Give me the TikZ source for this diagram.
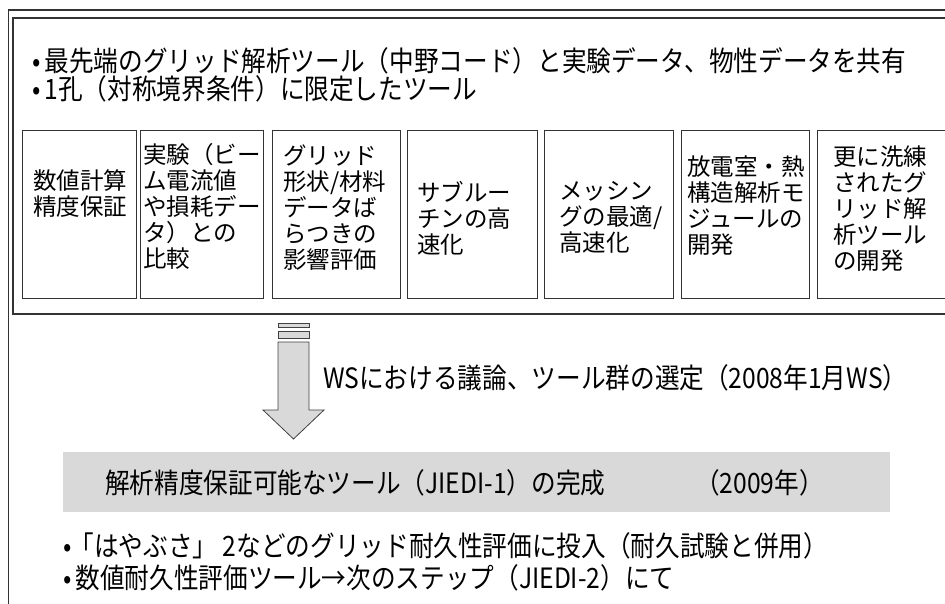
\documentclass[tikz,border=0pt]{standalone}
\usepackage{fontspec}
\setmainfont{Noto Sans CJK JP}
\newfontfamily\cjkbox{Noto Sans CJK JP}
\newfontfamily\cjkline[FakeStretch=0.88]{Noto Sans CJK JP}
\newcommand{\boxfont}{\cjkbox\fontsize{23.5}{26}\selectfont}
\newcommand{\linefont}{\cjkline\fontsize{28}{28}\selectfont}
\newcommand{\bul}{•\hspace{4pt}}
\definecolor{lightfill}{HTML}{D9D9D9}
\definecolor{linegray}{HTML}{333333}
\begin{document}
\begin{tikzpicture}[x=1pt,y=-1pt,
  framestyle/.style={draw=linegray, line width=1.1pt},
  boxn/.style={draw=linegray, line width=1.1pt, rectangle, inner sep=0pt, minimum height=168pt, anchor=north west},
  boxtxt/.style={font=\boxfont, align=left, anchor=west, inner sep=0pt, text=black},
  linetxt/.style={font=\linefont, anchor=base west, inner sep=0pt, text=black},
  arrowshape/.style={fill=lightfill, draw=black!75, line width=0.8pt}]
\useasboundingbox (0,0) rectangle (945,604);
\clip (0,0) rectangle (945,604);
% frames
\draw[framestyle] (960,10) -- (8.5,10) -- (8.5,620);
\draw[framestyle] (960,18) -- (13,18) -- (13,314) -- (960,314);
% top bullets
\node[linetxt] (t1) at (32,72) {\bul 最先端のグリッド解析ツール（中野コード）と実験データ、物性データを共有};
\node[linetxt] (t2) at (32,100) {\bul 1孔（対称境界条件）に限定したツール};
% boxes
\node[boxn, minimum width=114pt] (b1) at (22,130) {};
\node[boxn, minimum width=123pt] (b2) at (140,130) {};
\node[boxn, minimum width=128pt] (b3) at (272,130) {};
\node[boxn, minimum width=130pt] (b4) at (407,130) {};
\node[boxn, minimum width=129pt] (b5) at (544,130) {};
\node[boxn, minimum width=128pt] (b6) at (681,130) {};
\node[boxn, minimum width=153pt] (b7) at (817,130) {};
\node[boxtxt] (x1) at (33,194) {数値計算\\精度保証};
\node[boxtxt] (x2) at (143,206.5) {実験（ビー\\ム電流値\\や損耗デー\\タ）との\\比較};
\node[boxtxt] (x3) at (283,207.5) {グリッド\\形状/材料\\データば\\らつきの\\影響評価};
\node[boxtxt] (x4) at (417,218) {サブルー\\チンの高\\速化};
\node[boxtxt] (x5) at (559,217) {メッシン\\グの最適/\\高速化};
\node[boxtxt] (x6) at (687,206) {放電室・熱\\構造解析モ\\ジュールの\\開発};
\node[boxtxt] (x7) at (833,209) {更に洗練\\されたグ\\リッド解\\析ツール\\の開発};
% arrow
\draw[arrowshape] (278,323) rectangle (309,327);
\draw[arrowshape] (278,331) rectangle (309,338);
\draw[arrowshape] (278,342) -- (309,342) -- (309,410) -- (324,410) -- (293.5,439) -- (263,410) -- (278,410) -- cycle;
\node[linetxt] (ws) at (323,388) {WSにおける議論、ツール群の選定（2008年1月WS）};
% result box
\node[fill=lightfill, inner sep=0pt, minimum width=827pt, minimum height=60pt, anchor=north west] (res) at (63,452) {};
\node[linetxt] (r1) at (105,493) {解析精度保証可能なツール（JIEDI-1）の完成};
\node[linetxt] (r2) at (695,493) {（2009年）};
% bottom bullets
\node[linetxt] (u1) at (63,556) {•\hspace{-2pt}「はやぶさ」 2などのグリッド耐久性評価に投入（耐久試験と併用）};
\node[linetxt] (u2) at (63,588) {\bul 数値耐久性評価ツール→次のステップ（JIEDI-2）にて};
\end{tikzpicture}
\end{document}
